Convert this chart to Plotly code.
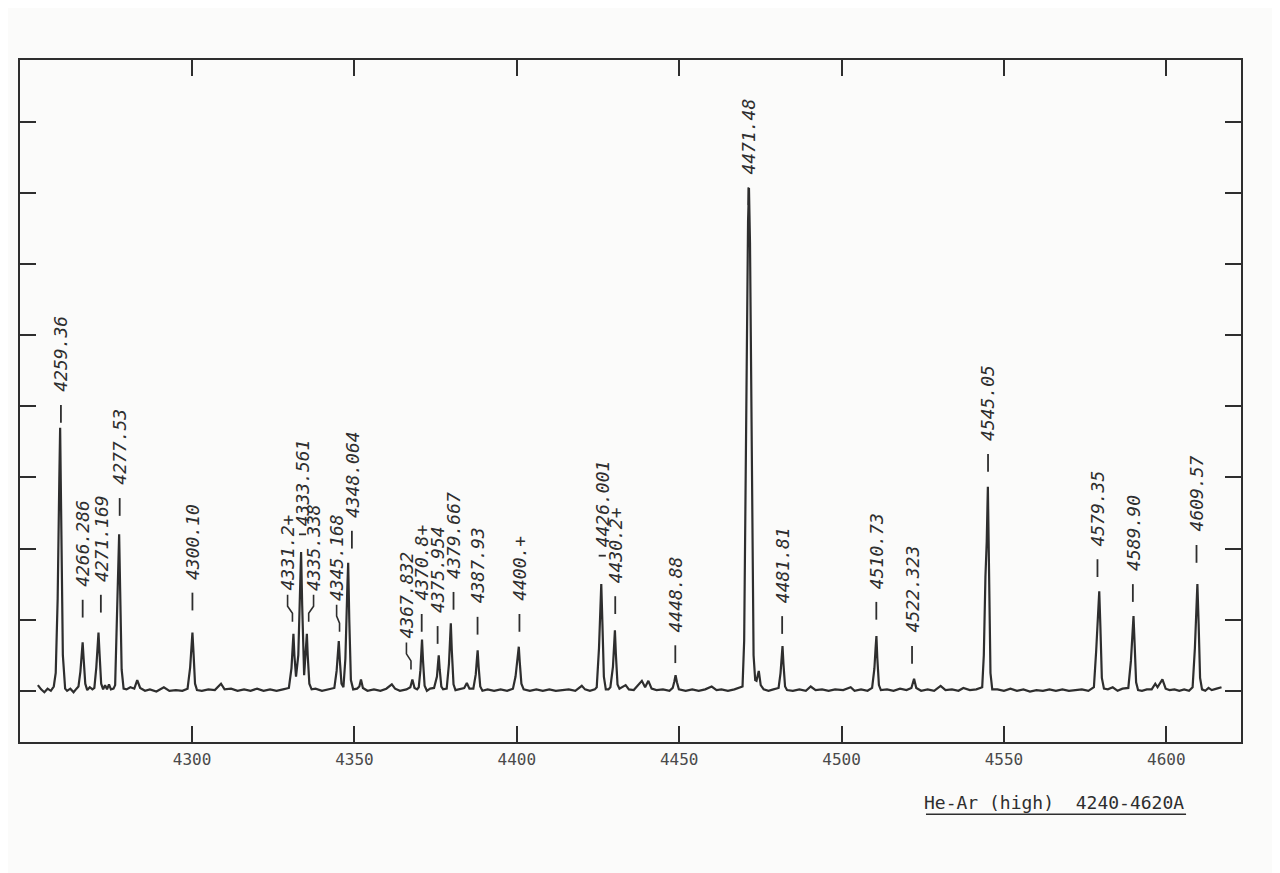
import plotly.graph_objects as go

# ---- data -----------------------------------------------------------------
# spectrum trace: (wavelength in Angstrom, intensity in tick units above baseline)
spectrum = [
    (4252.5, 0.08), (4253.5, 0.02), (4254.5, -0.02), (4255.5, 0.03), (4256.5, 0.0), (4257.4, 0.06),
    (4258.0, 0.25), (4258.6, 1.3), (4259.1, 2.96), (4259.36, 3.70), (4259.7, 2.4), (4260.2, 0.5), (4260.9, 0.03),
    (4261.5, 0.0), (4262.5, 0.03), (4263.5, -0.02), (4264.4, 0.03),
    (4265.0, 0.06), (4265.6, 0.27), (4266.05, 0.54), (4266.29, 0.68), (4266.6, 0.45), (4267.1, 0.1), (4267.7, 0.01),
    (4268.5, 0.05), (4269.3, 0.02), (4269.9, 0.04),
    (4270.5, 0.33), (4270.95, 0.66), (4271.17, 0.82), (4271.5, 0.52), (4272.0, 0.1), (4272.6, 0.02),
    (4273.2, 0.08), (4273.8, 0.02), (4274.4, 0.09), (4275.0, 0.02), (4275.8, 0.03),
    (4276.3, 0.08), (4276.8, 0.88), (4277.25, 1.76), (4277.53, 2.2), (4277.85, 1.4), (4278.3, 0.3), (4278.9, 0.03),
    (4279.8, 0.02), (4281.0, 0.05), (4282.2, 0.03), (4283.1, 0.15), (4284.0, 0.04), (4285.5, 0.0), (4287.0, 0.02),
    (4289.0, -0.01), (4291.3, 0.05), (4293.0, 0.0), (4295.0, 0.01), (4297.0, 0.0), (4298.6, 0.03),
    (4299.4, 0.33), (4299.85, 0.66), (4300.1, 0.82), (4300.45, 0.52), (4300.9, 0.1), (4301.5, 0.01),
    (4303.0, 0.0), (4305.0, 0.02), (4307.0, 0.01), (4308.9, 0.1), (4310.0, 0.02), (4312.0, 0.03), (4314.0, 0.0),
    (4316.0, 0.02), (4318.0, 0.0), (4320.0, 0.03), (4322.0, 0.0), (4324.0, 0.02), (4326.0, 0.0), (4328.0, 0.02), (4329.8, 0.04),
    (4330.6, 0.32), (4331.0, 0.64), (4331.2, 0.8), (4331.5, 0.5), (4332.0, 0.2), (4332.7, 0.5), (4333.2, 1.2),
    (4333.56, 1.95), (4333.9, 1.2), (4334.5, 0.22), (4334.9, 0.5), (4335.34, 0.8), (4335.6, 0.5), (4336.1, 0.1), (4336.8, 0.02),
    (4338.0, 0.03), (4340.0, 0.0), (4342.0, 0.02), (4343.8, 0.04),
    (4344.5, 0.28), (4344.95, 0.56), (4345.17, 0.7), (4345.5, 0.42), (4346.0, 0.1), (4346.6, 0.05), (4347.2, 0.45),
    (4347.8, 1.45), (4348.06, 1.8), (4348.4, 1.0), (4348.9, 0.15), (4349.6, 0.02),
    (4350.8, 0.03), (4351.5, 0.06), (4352.0, 0.16), (4352.6, 0.04), (4354.0, 0.0), (4356.0, 0.02), (4358.0, 0.0),
    (4359.8, 0.03), (4361.5, 0.09), (4362.5, 0.03), (4364.0, 0.0), (4366.0, 0.02),
    (4367.2, 0.05), (4367.83, 0.16), (4368.5, 0.04), (4369.3, 0.02),
    (4369.8, 0.05), (4370.3, 0.29), (4370.6, 0.58), (4370.8, 0.72), (4371.1, 0.43), (4371.6, 0.07), (4372.3, 0.0),
    (4373.3, 0.03), (4374.5, 0.04),
    (4375.4, 0.2), (4375.75, 0.4), (4375.95, 0.5), (4376.25, 0.3), (4376.75, 0.06), (4377.3, 0.02),
    (4378.4, 0.03), (4379.1, 0.38), (4379.47, 0.76), (4379.67, 0.95), (4379.97, 0.57), (4380.5, 0.09), (4381.1, 0.01),
    (4382.5, 0.02), (4383.8, 0.04), (4384.6, 0.11), (4385.4, 0.03), (4386.6, 0.03),
    (4387.35, 0.23), (4387.73, 0.46), (4387.93, 0.57), (4388.23, 0.34), (4388.73, 0.06), (4389.4, 0.0),
    (4391.0, 0.02), (4393.0, 0.0), (4395.0, 0.02), (4397.0, 0.0), (4398.8, 0.03),
    (4399.6, 0.2), (4400.2, 0.48), (4400.6, 0.62), (4400.9, 0.4), (4401.4, 0.1), (4402.1, 0.02),
    (4404.0, 0.0), (4406.0, 0.02), (4408.0, 0.0), (4410.0, 0.02), (4412.0, 0.0), (4414.0, 0.01), (4416.0, 0.02),
    (4418.0, 0.0), (4420.0, 0.07), (4421.0, 0.02), (4422.5, 0.0), (4424.0, 0.02), (4424.6, 0.05),
    (4425.3, 0.6), (4425.75, 1.2), (4426.0, 1.5), (4426.35, 0.95), (4426.8, 0.2), (4427.4, 0.02),
    (4428.2, 0.02), (4428.8, 0.05), (4429.6, 0.34), (4430.0, 0.68), (4430.2, 0.85), (4430.5, 0.51), (4431.0, 0.09), (4431.6, 0.03),
    (4433.5, 0.08), (4434.5, 0.02), (4436.0, 0.01), (4438.5, 0.14), (4439.5, 0.05), (4440.5, 0.14), (4441.5, 0.03),
    (4443.0, 0.01), (4445.0, 0.02), (4447.0, 0.0), (4448.0, 0.04),
    (4448.5, 0.13), (4448.88, 0.22), (4449.3, 0.12), (4449.9, 0.02),
    (4452.0, 0.0), (4454.0, 0.02), (4456.0, 0.0), (4458.0, 0.02), (4460.0, 0.06), (4461.5, 0.01), (4463.0, 0.02),
    (4465.0, 0.0), (4467.0, 0.02), (4468.5, 0.04),
    (4469.5, 0.06), (4470.0, 0.7), (4470.3, 2.5), (4470.75, 4.8), (4471.2, 6.6), (4471.48, 7.07), (4471.8, 6.3),
    (4472.2, 4.2), (4472.6, 1.6), (4472.9, 0.5), (4473.4, 0.15),
    (4473.8, 0.14), (4474.5, 0.28), (4475.1, 0.08), (4476.0, 0.02), (4477.5, 0.0), (4479.0, 0.02), (4480.6, 0.04),
    (4481.2, 0.25), (4481.6, 0.5), (4481.81, 0.63), (4482.1, 0.38), (4482.6, 0.06), (4483.2, 0.01),
    (4485.0, 0.0), (4487.0, 0.02), (4489.0, 0.0), (4490.5, 0.06), (4492.0, 0.01), (4494.0, 0.02), (4496.0, 0.0),
    (4498.0, 0.02), (4500.5, 0.01), (4502.8, 0.05), (4504.0, 0.0), (4506.0, 0.02), (4508.0, 0.0), (4509.4, 0.04),
    (4510.1, 0.31), (4510.5, 0.62), (4510.73, 0.77), (4511.0, 0.46), (4511.5, 0.08), (4512.1, 0.01),
    (4514.0, 0.02), (4516.0, 0.0), (4518.0, 0.03), (4520.0, 0.01), (4521.5, 0.04),
    (4522.32, 0.17), (4523.0, 0.04),
    (4524.5, 0.0), (4526.5, 0.02), (4528.5, 0.0), (4530.5, 0.07), (4532.0, 0.01), (4534.0, 0.02), (4536.0, 0.0),
    (4537.5, 0.04), (4539.5, 0.01), (4541.5, 0.02), (4543.3, 0.05),
    (4543.8, 0.5), (4544.3, 1.6), (4544.7, 2.1), (4545.05, 2.87), (4545.45, 1.8), (4545.85, 0.25), (4546.4, 0.02),
    (4548.0, 0.02), (4550.0, 0.0), (4552.0, 0.03), (4554.0, 0.0), (4556.0, 0.02), (4558.0, -0.01), (4560.0, 0.01),
    (4562.0, 0.0), (4564.0, 0.02), (4566.0, 0.0), (4568.0, 0.02), (4570.0, 0.0), (4572.0, 0.01), (4574.0, 0.02),
    (4576.0, 0.0), (4577.7, 0.05),
    (4578.4, 0.56), (4578.95, 1.0), (4579.35, 1.4), (4579.7, 0.9), (4580.15, 0.18), (4580.8, 0.03),
    (4582.0, 0.02), (4583.5, 0.05), (4585.0, 0.0), (4586.5, 0.03), (4588.3, 0.04),
    (4589.1, 0.42), (4589.65, 0.84), (4589.9, 1.05), (4590.25, 0.65), (4590.7, 0.12), (4591.3, 0.01),
    (4592.5, 0.0), (4594.0, 0.02), (4595.5, 0.02), (4596.6, 0.1), (4597.3, 0.05), (4598.8, 0.16), (4599.8, 0.03),
    (4601.0, 0.01), (4602.5, 0.02), (4604.0, 0.0), (4605.5, 0.02), (4607.0, 0.0), (4608.1, 0.05),
    (4608.8, 0.6), (4609.25, 1.2), (4609.57, 1.5), (4609.95, 0.95), (4610.4, 0.18), (4611.0, 0.02),
    (4612.0, 0.0), (4613.0, 0.04), (4614.0, 0.01), (4615.5, 0.03), (4617.0, 0.05),
]
wavelength = [p[0] for p in spectrum]
intensity = [p[1] for p in spectrum]

# line identifications: text, wavelength of the text column, height of the leader foot,
# and (for bent leaders) the wavelength where the leader ends near its peak
label_text = ["4259.36", "4266.286", "4271.169", "4277.53", "4300.10", "4331.2+", "4333.561",
              "4335.338", "4345.168", "4348.064", "4367.832", "4370.8+", "4375.954", "4379.667",
              "4387.93", "4400.+", "4426.001", "4430.2+", "4448.88", "4471.48", "4481.81",
              "4510.73", "4522.323", "4545.05", "4579.35", "4589.90", "4609.57"]
label_wl = [4259.6, 4266.3, 4271.9, 4277.7, 4300.1, 4329.4, 4334.0,
            4337.4, 4344.5, 4349.2, 4366.0, 4370.7, 4375.6, 4380.5,
            4387.9, 4400.8, 4426.3, 4430.3, 4448.8, 4471.3, 4481.7,
            4510.7, 4521.7, 4545.1, 4578.8, 4589.7, 4609.3]
label_base = [3.77, 1.03, 1.10, 2.46, 1.13, 0.97, 2.2,
              0.97, 0.83, 2.0, 0.3, 0.83, 0.66, 1.14,
              0.79, 0.83, 1.9, 1.08, 0.39, 6.83, 0.8,
              1.0, 0.38, 3.08, 1.6, 1.25, 1.8]
label_foot_wl = {"4331.2+": 4330.9, "4335.338": 4335.9, "4345.168": 4345.4, "4367.832": 4367.4}

x_ticks = [4300, 4350, 4400, 4450, 4500, 4550, 4600]
y_ticks = [0, 1, 2, 3, 4, 5, 6, 7, 8]
title_text = "He-Ar (high)  4240-4620A"

# ---- styling ----------------------------------------------------------------
INK = "#2e2e2e"
PAPER = "#fbfbfa"
BAR_LABELS = {"4333.561", "4426.001"}   # leader drawn as a short horizontal bar
DASH_LEN = 0.25      # tick units
TEXT_GAP = 0.42      # tick units from leader foot to text
BAR_GAP = 0.10

fig = go.Figure()
fig.add_trace(go.Scatter(x=wavelength, y=intensity, mode="lines",
                         line=dict(color=INK, width=2.2), hoverinfo="skip", showlegend=False))

for txt, wl, base in zip(label_text, label_wl, label_base):
    if txt in BAR_LABELS:
        fig.add_shape(type="line", xref="x", yref="y", x0=wl - 1.1, x1=wl + 1.1, y0=base, y1=base,
                      line=dict(color=INK, width=1.8))
        ty = base + BAR_GAP
    elif txt in label_foot_wl:
        foot = label_foot_wl[txt]
        ty = base + TEXT_GAP
        path = (f"M {wl},{ty - 0.04} L {wl},{base + 0.22} "
                f"L {foot},{base + 0.12} L {foot},{base}")
        fig.add_shape(type="path", xref="x", yref="y", path=path,
                      line=dict(color=INK, width=1.6))
    else:
        fig.add_shape(type="line", xref="x", yref="y", x0=wl, x1=wl, y0=base, y1=base + DASH_LEN,
                      line=dict(color=INK, width=1.8))
        ty = base + TEXT_GAP
    fig.add_annotation(x=wl, y=ty, xref="x", yref="y", text=txt,
                       textangle=-90, showarrow=False, xanchor="center", yanchor="bottom",
                       borderpad=0, font=dict(family="DejaVu Sans Mono", size=18, color=INK, style="italic"))

fig.add_annotation(x=0.847, y=-0.088, xref="paper", yref="paper", text=title_text, showarrow=False,
                   xanchor="center", yanchor="middle",
                   font=dict(family="DejaVu Sans Mono", size=18, color=INK))
fig.add_shape(type="line", xref="paper", yref="paper", x0=0.742, x1=0.955, y0=-0.106, y1=-0.106,
              line=dict(color=INK, width=1.5))

fig.update_xaxes(range=[4247, 4623], tickvals=x_ticks, ticktext=[str(v) for v in x_ticks],
                 ticks="inside", ticklen=16, tickwidth=1.5, tickcolor=INK,
                 showline=True, linecolor=INK, linewidth=1.5, mirror="ticks",
                 showgrid=False, zeroline=False, ticklabelstandoff=2,
                 tickfont=dict(family="DejaVu Sans Mono", size=16, color="#4a4a4a"))
fig.update_yaxes(range=[-0.72, 8.87], tickvals=y_ticks, showticklabels=False,
                 ticks="inside", ticklen=16, tickwidth=1.5, tickcolor=INK,
                 showline=True, linecolor=INK, linewidth=1.5, mirror="ticks",
                 showgrid=False, zeroline=False)

# the page adds an 8px body margin; margins compensate so the frame lands where the reference has it
fig.update_layout(width=1280, height=873, margin=dict(l=12, r=47, t=52, b=139),
                  paper_bgcolor=PAPER, plot_bgcolor=PAPER, showlegend=False)

fig.write_html("out.html")
